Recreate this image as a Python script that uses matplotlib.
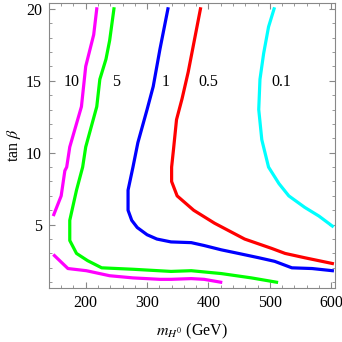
import numpy as np
import matplotlib
matplotlib.use("Agg")
import matplotlib.pyplot as plt
from matplotlib.ticker import MultipleLocator

plt.rcParams['font.family'] = ['Liberation Serif', 'DejaVu Serif']
plt.rcParams['mathtext.fontset'] = 'stix'

# contour lines (m_H0 in GeV, tan beta)
mag_upper_x = [218, 213, 200, 193, 174, 169, 166, 160, 148]
mag_upper_y = [20.0, 18.2, 16.0, 13.2, 10.4, 9.0, 8.75, 7.0, 5.7]
mag_lower_x = [149, 171, 201, 239, 277, 321, 339, 372, 393, 420]
mag_lower_y = [2.85, 1.95, 1.8, 1.45, 1.3, 1.2, 1.2, 1.25, 1.2, 1.0]

green_x = [246, 239, 233, 223, 218, 200, 195, 185, 174, 174, 185, 203, 226, 277, 339, 372, 421, 470, 511]
green_y = [20.0, 17.8, 16.5, 15.1, 13.2, 10.4, 9.0, 7.4, 5.3, 3.9, 3.0, 2.5, 2.0, 1.9, 1.75, 1.8, 1.6, 1.3, 1.0]

blue_x = [334, 321, 310, 300, 285, 277, 269, 269, 275, 284, 300, 316, 339, 372, 393, 421, 449, 482, 508, 536, 569, 602]
blue_y = [20.0, 17.2, 14.6, 13.0, 10.7, 9.0, 7.4, 6.0, 5.3, 4.8, 4.3, 4.0, 3.8, 3.75, 3.55, 3.25, 3.0, 2.7, 2.45, 2.0, 1.95, 1.8]

red_x = [387, 377, 367, 357, 348, 343, 340, 340, 349, 376, 410, 459, 503, 525, 557, 602]
red_y = [20.0, 17.8, 15.6, 13.75, 12.3, 10.2, 9.0, 8.0, 7.0, 6.0, 5.1, 4.0, 3.35, 3.0, 2.7, 2.3]

cyan_x = [507, 498, 490, 484, 482, 487, 498, 515, 531, 557, 580, 602]
cyan_y = [20.0, 18.75, 16.9, 15.1, 13.0, 10.9, 9.0, 7.85, 7.0, 6.2, 5.6, 4.9]

labels = ['10', '5', '1', '0.5', '0.1']
label_x = [177, 249, 330, 400, 518]
label_y = [14.9, 14.9, 14.9, 14.9, 14.9]

fig = plt.figure(figsize=(3.42, 3.42), dpi=100)
ax = fig.add_axes([0.143, 0.158, 0.836, 0.833])

lw = 2.3
ax.plot(mag_upper_x, mag_upper_y, color='#ff00ff', lw=lw)
ax.plot(mag_lower_x, mag_lower_y, color='#ff00ff', lw=lw)
ax.plot(green_x, green_y, color='#00ff00', lw=lw)
ax.plot(blue_x, blue_y, color='#0000ff', lw=lw)
ax.plot(red_x, red_y, color='#ff0000', lw=lw)
ax.plot(cyan_x, cyan_y, color='#00ffff', lw=lw)

for t, x, y in zip(labels, label_x, label_y):
    ax.text(x, y, t, ha='center', va='center', fontsize=11.5)

ax.set_xlim(140, 606)
ax.set_ylim(0.6, 20.4)
ax.xaxis.set_major_locator(MultipleLocator(100))
ax.xaxis.set_minor_locator(MultipleLocator(20))
ax.yaxis.set_major_locator(MultipleLocator(5))
ax.yaxis.set_minor_locator(MultipleLocator(1))
ax.tick_params(which='both', direction='in', top=True, right=True, color='#888888', labelsize=11.5)
ax.tick_params(which='major', length=4, pad=5)
ax.tick_params(which='minor', length=2)
for s in ax.spines.values():
    s.set_color('#888888')

ax.set_xlabel(r'$m_{H^0}$ (GeV)', fontsize=11.5, labelpad=8)
ax.set_ylabel(r'tan $\beta$', fontsize=11.5, labelpad=2)

fig.savefig('out.png', dpi=100)
